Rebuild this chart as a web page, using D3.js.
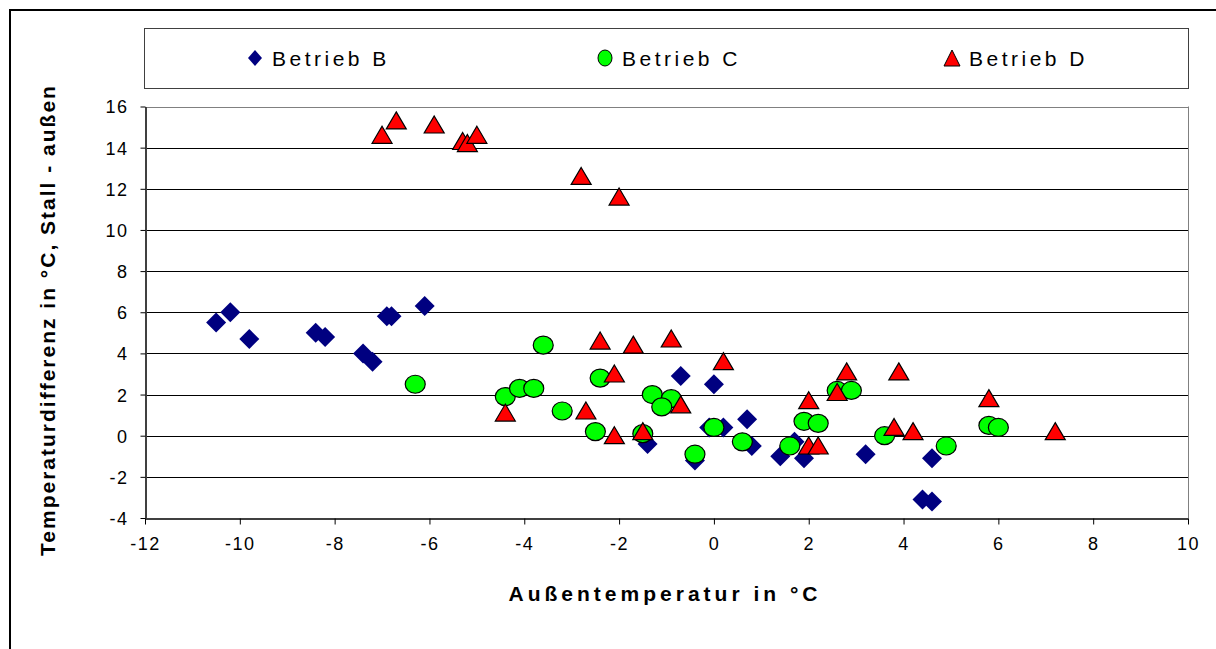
<!DOCTYPE html>
<html>
<head>
<meta charset="utf-8">
<script src="https://cdn.jsdelivr.net/npm/d3@7"></script>
<style>
  body { margin: 0; background: #fff; }
  svg { display: block; font-family: "Liberation Sans", Arial, sans-serif; }
</style>
</head>
<body>
<div id="chart"></div>
<script>
// values: [Außentemperatur, Temperaturdifferenz]
const betriebB = [
  [-10.5, 5.5], [-10.2, 6.0], [-9.8, 4.7], [-8.4, 5.0], [-8.2, 4.8],
  [-7.4, 4.0], [-7.2, 3.6], [-6.9, 5.8], [-6.8, 5.8], [-6.1, 6.3],
  [-0.7, 2.9], [0.0, 2.5], [-1.4, -0.4], [-0.4, -1.2], [-0.1, 0.4],
  [0.2, 0.4], [0.7, 0.8], [0.8, -0.5], [1.4, -1.0], [1.7, -0.3],
  [1.9, -1.1], [3.2, -0.9], [4.6, -1.1], [4.4, -3.1], [4.6, -3.2]
];
const betriebC = [
  [-6.3, 2.5], [-3.6, 4.4], [-4.4, 1.9], [-4.1, 2.3], [-3.8, 2.3],
  [-3.2, 1.2], [-2.4, 2.8], [-2.5, 0.2], [-1.5, 0.1], [-1.3, 2.0],
  [-0.9, 1.8], [-1.1, 1.4], [-0.4, -0.9], [0.0, 0.4], [0.6, -0.3],
  [1.6, -0.5], [1.9, 0.7], [2.2, 0.6], [2.6, 2.2], [2.9, 2.2],
  [3.6, 0.0], [4.9, -0.5], [5.8, 0.5], [6.0, 0.4]
];
const betriebD = [
  [-7.0, 14.6], [-6.7, 15.3], [-5.9, 15.1], [-5.3, 14.3], [-5.2, 14.2],
  [-5.0, 14.6], [-2.8, 12.6], [-2.0, 11.6], [-4.4, 1.1], [-2.4, 4.6],
  [-1.7, 4.4], [-0.9, 4.7], [-2.1, 3.0], [-2.7, 1.2], [-2.1, 0.0],
  [-1.5, 0.2], [-0.7, 1.5], [0.2, 3.6], [2.0, 1.7], [2.0, -0.5],
  [2.2, -0.5], [2.6, 2.1], [2.8, 3.1], [3.9, 3.1], [3.8, 0.4],
  [4.2, 0.2], [5.8, 1.8], [7.2, 0.2]
];
const seriesNames = ['Betrieb B', 'Betrieb C', 'Betrieb D'];
const xTicks = [-12, -10, -8, -6, -4, -2, 0, 2, 4, 6, 8, 10];
const yTicks = [-4, -2, 0, 2, 4, 6, 8, 10, 12, 14, 16];
const xTitle = 'Außentemperatur in °C';
const yTitle = 'Temperaturdifferenz in °C, Stall - außen';

const W = 1216, H = 649;
const plot = { left: 145, right: 1188, top: 106.5, bottom: 518 };

const svg = d3.select('#chart').append('svg')
  .attr('width', W)
  .attr('height', H);

// outer frame (runs off the right and bottom edge)
svg.append('rect')
  .attr('x', 10).attr('y', 10)
  .attr('width', W + 20).attr('height', H + 20)
  .attr('fill', 'none')
  .attr('stroke', '#000')
  .attr('stroke-width', 2);

const x = d3.scaleLinear().domain([-12, 10]).range([plot.left, plot.right]);
const y = d3.scaleLinear().domain([-4, 16]).range([plot.bottom, plot.top]);

// gridlines
svg.append('g')
  .selectAll('line')
  .data(yTicks)
  .join('line')
  .attr('x1', plot.left).attr('x2', plot.right)
  .attr('y1', d => Math.round(y(d)) + 0.5)
  .attr('y2', d => Math.round(y(d)) + 0.5)
  .attr('stroke', d => d === 16 ? '#808080' : '#000')
  .attr('stroke-width', 1);

// right plot border
svg.append('line')
  .attr('x1', plot.right + 0.5).attr('x2', plot.right + 0.5)
  .attr('y1', plot.top).attr('y2', plot.bottom)
  .attr('stroke', '#808080');

// axes, hyphen minus like the original
const yAxis = svg.append('g')
  .attr('transform', `translate(${plot.left + 0.5},0)`)
  .call(d3.axisLeft(y).tickValues(yTicks).tickFormat(d => String(d))
    .tickSize(5).tickSizeOuter(0).tickPadding(12));
const xAxis = svg.append('g')
  .attr('transform', `translate(0,${Math.round(plot.bottom) + 0.5})`)
  .call(d3.axisBottom(x).tickValues(xTicks).tickFormat(d => String(d))
    .tickSize(6).tickSizeOuter(0).tickPadding(13));

[xAxis, yAxis].forEach(a => {
  a.select('.domain').attr('stroke', '#404040').attr('stroke-width', 2);
  a.selectAll('.tick line').attr('stroke', '#000');
  a.selectAll('.tick text')
    .attr('fill', '#000')
    .style('font-family', '"Liberation Sans", Arial, sans-serif')
    .style('font-size', '18px')
    .style('letter-spacing', '1.5px');
});
yAxis.selectAll('.tick text').attr('dy', '0.36em');

// marker shapes
const diamond = 'M0,-10L10,0L0,10L-10,0Z';
const triangle = 'M0,-9L10,8L-10,8Z';

// Betrieb B
svg.append('g')
  .selectAll('path')
  .data(betriebB)
  .join('path')
  .attr('d', diamond)
  .attr('transform', d => `translate(${x(d[0])},${y(d[1])})`)
  .attr('fill', '#000080');

// Betrieb C
svg.append('g')
  .selectAll('ellipse')
  .data(betriebC)
  .join('ellipse')
  .attr('cx', d => x(d[0]))
  .attr('cy', d => y(d[1]))
  .attr('rx', 10).attr('ry', 9)
  .attr('fill', '#00ff00')
  .attr('stroke', '#000')
  .attr('stroke-width', 1.2);

// Betrieb D
svg.append('g')
  .selectAll('path')
  .data(betriebD)
  .join('path')
  .attr('d', triangle)
  .attr('transform', d => `translate(${x(d[0])},${y(d[1])})`)
  .attr('fill', '#ff0000')
  .attr('stroke', '#000')
  .attr('stroke-width', 1.2);

// legend
const legend = svg.append('g');
legend.append('rect')
  .attr('x', 144.5).attr('y', 28.5)
  .attr('width', 1044).attr('height', 60)
  .attr('fill', '#fff')
  .attr('stroke', '#404040');

const legendX = [255, 605, 952];
const legendY = 58;
legend.append('path')
  .attr('d', 'M0,-8L7,0L0,8L-7,0Z')
  .attr('transform', `translate(${legendX[0]},${legendY})`)
  .attr('fill', '#000080');
legend.append('ellipse')
  .attr('cx', legendX[1]).attr('cy', legendY)
  .attr('rx', 7).attr('ry', 8)
  .attr('fill', '#00ff00').attr('stroke', '#000');
legend.append('path')
  .attr('d', 'M0,-8L8,8L-8,8Z')
  .attr('transform', `translate(${legendX[2]},${legendY})`)
  .attr('fill', '#ff0000').attr('stroke', '#000');

legend.selectAll('text')
  .data(seriesNames)
  .join('text')
  .attr('x', (d, i) => legendX[i] + 17)
  .attr('y', legendY + 8)
  .style('font-size', '21px')
  .style('letter-spacing', '3.5px')
  .text(d => d);

// axis titles
svg.append('text')
  .attr('x', 665).attr('y', 601)
  .attr('text-anchor', 'middle')
  .style('font-size', '21px')
  .style('font-weight', 'bold')
  .style('letter-spacing', '4px')
  .text(xTitle);

svg.append('text')
  .attr('transform', 'translate(55,320) rotate(-90)')
  .attr('text-anchor', 'middle')
  .style('font-size', '21px')
  .style('font-weight', 'bold')
  .style('letter-spacing', '2px')
  .text(yTitle);
</script>
</body>
</html>
